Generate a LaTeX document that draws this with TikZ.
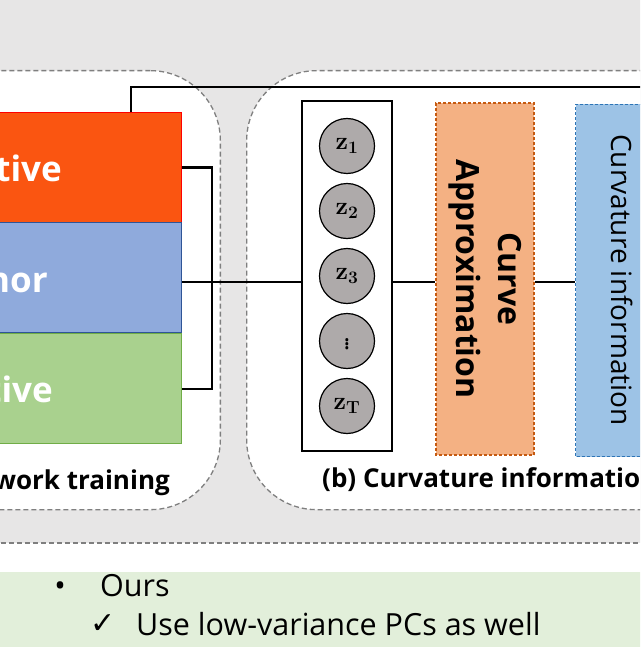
\RequirePackage{fix-cm}
\documentclass[tikz,border=0pt]{standalone}
\usepackage{amsmath}
\usepackage{amssymb}
\usepackage[no-math]{fontspec}
\setmainfont{Open Sans}
\newfontfamily\symbolfont{DejaVu Sans}
\usepackage{xcolor}
\usepackage{tikz}
\usetikzlibrary{positioning,fit,calc}
\definecolor{bggray}{RGB}{231,230,230}
\definecolor{dashgray}{RGB}{127,127,127}
\definecolor{branchred}{RGB}{250,85,17}
\definecolor{branchblue}{RGB}{143,170,220}
\definecolor{branchblueline}{RGB}{47,85,151}
\definecolor{branchgreen}{RGB}{169,209,142}
\definecolor{branchgreenline}{RGB}{112,173,71}
\definecolor{latentgray}{RGB}{174,170,170}
\definecolor{approxorange}{RGB}{244,177,131}
\definecolor{approxline}{RGB}{197,90,17}
\definecolor{infoblue}{RGB}{157,195,230}
\definecolor{infoline}{RGB}{46,117,182}
\definecolor{oursgreen}{RGB}{226,239,218}

\begin{document}
\begin{tikzpicture}[x=1pt, y=-1pt, node distance=65pt, auto]
    \tikzstyle{panel} = [rectangle, rounded corners=70pt, draw=dashgray, dash pattern=on 5pt off 3pt, line width=1.3pt, fill=white]
    \tikzstyle{branch} = [rectangle, minimum width=260pt, minimum height=110pt, line width=1.2pt, anchor=north east]
    \tikzstyle{branchtext} = [text=white, font=\bfseries\fontsize{35}{35}\selectfont, anchor=base east, inner sep=0pt]
    \tikzstyle{latent} = [circle, minimum size=55pt, draw=black, line width=1.2pt, fill=latentgray, font=\fontsize{25}{25}\selectfont]
    \tikzstyle{stage} = [rectangle, rotate=-90, minimum width=352pt, minimum height=98pt, line width=1.2pt, dash pattern=on 3pt off 2pt]
    \tikzstyle{wire} = [draw=black, line width=2.2pt]
    \tikzstyle{caption} = [font=\bfseries\fontsize{26}{26}\selectfont, inner sep=0pt]
    \tikzstyle{note} = [font=\fontsize{30.5}{30.5}\selectfont, inner sep=0pt, anchor=base west]

    \useasboundingbox (0,0) rectangle (640,647);
    \clip (0,0) rectangle (640,647);

    % Background
    \draw[fill=bggray, draw=dashgray, dash pattern=on 5pt off 3pt, line width=1.3pt] (-20,-20) rectangle (660,543);
    \fill[oursgreen] (-20,572) rectangle (660,667);

    % Panels
    \node[panel, minimum width=400pt, minimum height=439pt, anchor=north east] (panel_a) at (221,70) {};
    \node[panel, minimum width=500pt, minimum height=439pt, anchor=north west] (panel_b) at (246,70) {};

    % Branch layer
    \node[branch, fill=branchred, draw=red] (upper_branch) at (182,112) {};
    \node[branch, fill=branchblue, draw=branchblueline] (anchor_branch) at (182,222) {};
    \node[branch, fill=branchgreen, draw=branchgreenline] (lower_branch) at (182,333) {};
    \node[branchtext] (upper_text) at (62,182) {tive};
    \node[branchtext] (anchor_text) at (48,292) {nor};
    \node[branchtext] (lower_text) at (53,402) {tive};

    % Latent layer
    \node[latent] (z1) at (347,146) {$\mathbf{z}_{\mathbf{1}}$};
    \node[latent, below of=z1] (z2) {$\mathbf{z}_{\mathbf{2}}$};
    \node[latent, below of=z2] (z3) {$\mathbf{z}_{\mathbf{3}}$};
    \node[latent, below of=z3] (zdots) {$\vdots$};
    \node[latent, below of=zdots] (zT) {$\mathbf{z}_{\mathbf{T}}$};
    \node[draw=black, line width=1.5pt, inner sep=17pt, fit=(z1)(zT)] (latent_stack) {};

    % Curvature layer
    \node[stage, fill=approxorange, draw=approxline, align=center, font=\bfseries\fontsize{32}{42}\selectfont] (curve_approx) at (485,279) {Curve\\Approximation};
    \node[stage, fill=infoblue, draw=infoline, anchor=south, minimum height=120pt] (curv_info) at (575,280.5) {};
    \node[rotate=-90, font=\fontsize{28}{28}\selectfont] (curv_info_text) at (622,280) {Curvature information};

    % Captions
    \node[caption, anchor=base east] (cap_a) at (170,489) {work training};
    \node[caption, anchor=base west] (cap_b) at (322,487) {(b) Curvature informatio};

    % Ours
    \node[note, anchor=base] (bullet) at (60,596) {•};
    \node[note] (ours) at (100,596) {Ours};
    \node[note, font=\symbolfont\fontsize{30}{30}\selectfont, anchor=base] (check) at (103,633) {✓};
    \node[note] (ours_item) at (136,635) {Use low-variance PCs as well};

    % Wires
    \coordinate (top_end) at (660,87);
    \draw[wire] ($(upper_branch.north east)+(-51,0)$) |- (top_end);
    \draw[wire] (upper_branch.east) -- ++(30,0) |- (lower_branch.east);
    \coordinate (bus) at ($(anchor_branch.east)+(0,4)$);
    \draw[wire] (bus) -- (bus -| latent_stack.west);
    \draw[wire] (bus -| latent_stack.east) -- (bus -| curve_approx.south);
    \draw[wire] (bus -| curve_approx.north) -- (bus -| curv_info.south);
\end{tikzpicture}
\end{document}
